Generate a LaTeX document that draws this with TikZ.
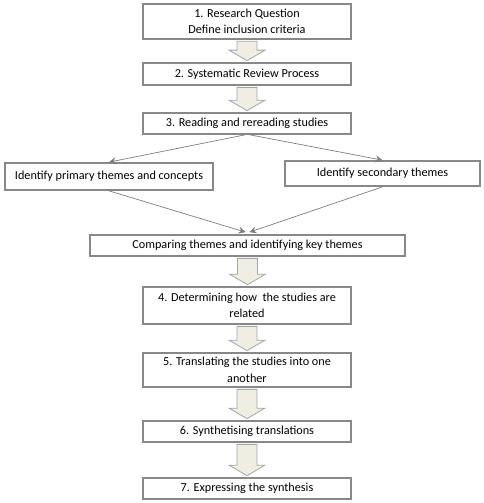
\documentclass[tikz,border=0pt]{standalone}
\usepackage{fontspec}
\setmainfont{Carlito}
\usetikzlibrary{calc,arrows.meta}
\definecolor{boxgray}{RGB}{136,136,136}
\definecolor{linegray}{RGB}{125,125,125}
\definecolor{arrowfill}{RGB}{238,238,226}
\definecolor{arrowline}{RGB}{165,165,165}
\newcommand{\blockdown}[2]{%
  \path[blockarrow] let \p1=(#1.south), \p2=(#2.north) in
    (\x1-10pt,\y1-1.5pt) -- (\x1+10pt,\y1-1.5pt) -- (\x1+10pt,\y2+12pt) -- (\x1+18pt,\y2+12pt)
    -- (\x1,\y2+1.5pt) -- (\x1-18pt,\y2+12pt) -- (\x1-10pt,\y2+12pt) -- cycle;}

\begin{document}
\begin{tikzpicture}
      [x=1pt,y=-1pt,
      every node/.style={draw=boxgray,line width=1.7pt,fill=white,align=center,inner sep=0pt,
        font=\fontsize{12.2}{16.5}\selectfont},
      stepbox/.style={minimum width=208pt},
      blockarrow/.style={fill=arrowfill,draw=arrowline,line width=0.8pt,line join=miter},
      thinarrow/.style={draw=linegray,line width=0.7pt,-{Stealth[length=7pt,width=7pt,inset=2.5pt]}}]
     \useasboundingbox (0,0) rectangle (483,503);
     \node[stepbox,minimum height=35pt] (rq) at (247,21.5) {1. Research Question\\Define inclusion criteria};
     \node[stepbox,minimum height=22pt] (srp) at (247,74) {2. Systematic Review Process};
     \node[stepbox,minimum height=21pt] (read) at (247,123.5) {3. Reading and rereading studies};
     \node[minimum width=208pt,minimum height=27pt] (prim) at (109,176.5) {Identify primary themes and concepts};
     \node[minimum width=195pt,minimum height=25pt] (sec) at (382.5,173.5) {Identify secondary themes};
     \node[minimum width=315pt,minimum height=21pt] (cmp) at (247.5,245.5) {Comparing themes and identifying key themes};
     \node[stepbox,minimum height=37pt] (rel) at (247,305.5) {4. Determining how\ \ the studies are\\related};
     \node[stepbox,minimum height=34pt] (trans) at (247,370) {5. Translating the studies into one\\another};
     \node[stepbox,minimum height=21pt] (synt) at (247,431.5) {6. Synthetising translations};
     \node[stepbox,minimum height=21pt] (expr) at (247,488.5) {7. Expressing the synthesis};
     \blockdown{rq}{srp}
     \blockdown{srp}{read}
     \blockdown{cmp}{rel}
     \blockdown{rel}{trans}
     \blockdown{trans}{synt}
     \blockdown{synt}{expr}
     \draw[thinarrow] ([xshift=-2pt]read.south) -- (prim.north);
     \draw[thinarrow] ([xshift=3pt]read.south) -- (sec.north);
     \draw[thinarrow] (prim.south) -- ([xshift=-2pt,yshift=2pt]cmp.north);
     \draw[thinarrow] (sec.south) -- ([xshift=2pt,yshift=2pt]cmp.north);
    \end{tikzpicture}
\end{document}
